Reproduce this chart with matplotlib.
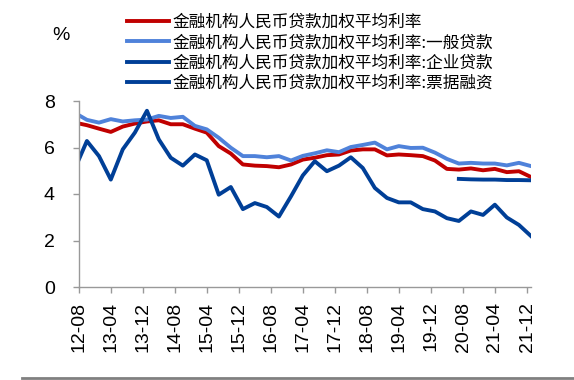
import matplotlib
matplotlib.use('Agg')
import matplotlib.pyplot as plt
import matplotlib.dates as mdates
from matplotlib.lines import Line2D
import pandas as pd

# quarterly observations, 2012Q2 .. 2021Q4
dates = pd.date_range('2012-06-30', periods=39, freq='QE')

overall = [7.07, 6.96, 6.81, 6.67, 6.90, 7.03, 7.12, 7.17, 7.00, 7.00,
           6.81, 6.64, 6.06, 5.74, 5.27, 5.22, 5.20, 5.15, 5.27, 5.48,
           5.56, 5.67, 5.70, 5.87, 5.92, 5.92, 5.66, 5.70, 5.67, 5.63,
           5.44, 5.08, 5.05, 5.10, 5.02, 5.08, 4.94, 4.98, 4.73]
general = [7.49, 7.19, 7.07, 7.22, 7.12, 7.17, 7.20, 7.36, 7.27, 7.32,
           6.93, 6.78, 6.42, 5.99, 5.63, 5.63, 5.58, 5.63, 5.44, 5.64,
           5.75, 5.88, 5.80, 6.02, 6.11, 6.21, 5.92, 6.06, 5.98, 5.99,
           5.78, 5.51, 5.31, 5.34, 5.31, 5.31, 5.23, 5.34, 5.20]
# enterprise loans only published from 2020Q2
enterprise = [4.65, 4.63, 4.62, 4.62, 4.60, 4.60, 4.59]
bill = [5.08, 6.28, 5.63, 4.62, 5.92, 6.64, 7.58, 6.35, 5.56, 5.22,
        5.70, 5.45, 3.97, 4.30, 3.35, 3.61, 3.44, 3.03, 3.90, 4.80,
        5.41, 4.98, 5.22, 5.58, 5.12, 4.26, 3.83, 3.64, 3.64, 3.35,
        3.25, 2.96, 2.84, 3.25, 3.10, 3.54, 2.99, 2.67, 2.19]

labels = ['金融机构人民币贷款加权平均利率',
          '金融机构人民币贷款加权平均利率:一般贷款',
          '金融机构人民币贷款加权平均利率:企业贷款',
          '金融机构人民币贷款加权平均利率:票据融资']
colors = ['#C00000', '#4F82DA', '#003F97', '#003F97']

tick_dates = pd.date_range('2012-08-01', '2021-12-01', freq='8MS')

plt.rcParams['font.family'] = ['Liberation Sans', 'DejaVu Sans']

fig = plt.figure(figsize=(5.74, 3.8), dpi=100)
ax = fig.add_axes([79 / 574, 1 - 287 / 380, (531 - 79) / 574, (287 - 101) / 380])

lw = 2.8
ax.plot(dates, overall, color=colors[0], lw=lw, label=labels[0])
ax.plot(dates, general, color=colors[1], lw=lw, label=labels[1])
ax.plot(dates[-len(enterprise):], enterprise, color=colors[2], lw=lw, label=labels[2])
ax.plot(dates, bill, color=colors[3], lw=lw, label=labels[3])

ax.set_xlim(pd.Timestamp('2012-08-01'), pd.Timestamp('2021-12-31'))
ax.set_ylim(0, 8)
ax.set_yticks([0, 2, 4, 6, 8])
ax.set_xticks(tick_dates)
ax.xaxis.set_major_formatter(mdates.DateFormatter('%y-%m'))
plt.setp(ax.get_xticklabels(), rotation=90)

for side in ['top', 'right']:
    ax.spines[side].set_visible(False)
for side in ['left', 'bottom']:
    ax.spines[side].set_color('#999999')
    ax.spines[side].set_linewidth(1.0)
ax.tick_params(axis='both', colors='#999999', labelcolor='black',
               direction='out', length=4.5, width=1.0, labelsize=14)
ax.tick_params(axis='y', pad=13)
ax.tick_params(axis='x', pad=6)

fig.text(61 / 574, 1 - 36 / 380, '%', fontsize=14, ha='center', va='center')

leg = fig.legend(loc='upper left', bbox_to_anchor=(127 / 574, 1 - 14 / 380),
                 frameon=False, borderpad=0, borderaxespad=0,
                 handlelength=2.5, handletextpad=0.25, labelspacing=0.2,
                 prop={'family': ['Noto Sans CJK SC', 'DejaVu Sans'], 'size': 12})

# grey rule along the bottom
fig.add_artist(Line2D([22 / 574, 1], [1 - 378 / 380] * 2, color='#808080', lw=2))

fig.savefig('out.png', dpi=100)
